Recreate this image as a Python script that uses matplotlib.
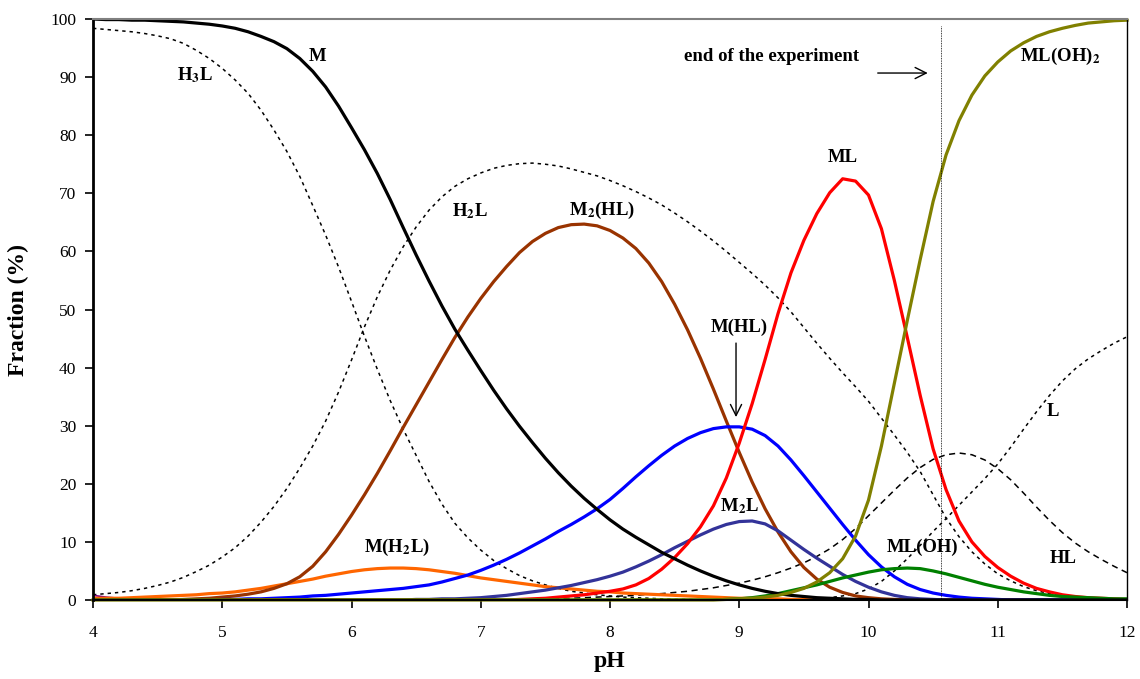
import matplotlib
matplotlib.use("Agg")
import matplotlib.pyplot as plt

plt.rcParams["font.family"] = "Liberation Serif"
plt.rcParams["mathtext.fontset"] = "stix"

# pH grid and species fractions (%)
ph = [4.0, 4.1, 4.2, 4.3, 4.4, 4.5, 4.6, 4.7, 4.8, 4.9,
      5.0, 5.1, 5.2, 5.3, 5.4, 5.5, 5.6, 5.7, 5.8, 5.9,
      6.0, 6.1, 6.2, 6.3, 6.4, 6.5, 6.6, 6.7, 6.8, 6.9,
      7.0, 7.1, 7.2, 7.3, 7.4, 7.5, 7.6, 7.7, 7.8, 7.9,
      8.0, 8.1, 8.2, 8.3, 8.4, 8.5, 8.6, 8.7, 8.8, 8.9,
      9.0, 9.1, 9.2, 9.3, 9.4, 9.5, 9.6, 9.7, 9.8, 9.9,
      10.0, 10.1, 10.2, 10.3, 10.4, 10.5, 10.6, 10.7, 10.8, 10.9,
      11.0, 11.1, 11.2, 11.3, 11.4, 11.5, 11.6, 11.7, 11.8, 11.9,
      12.0]

M = [100.0, 99.9, 99.9, 99.8, 99.8, 99.7, 99.6, 99.5, 99.3, 99.1,
     98.8, 98.4, 97.8, 97.0, 96.1, 94.9, 93.2, 91.0, 88.3, 85.0,
     81.3, 77.5, 73.4, 68.9, 64.1, 59.4, 54.9, 50.6, 46.6, 43.0,
     39.5, 36.1, 32.9, 29.9, 27.1, 24.4, 21.9, 19.6, 17.5, 15.6,
     13.8, 12.2, 10.8, 9.5, 8.2, 7.1, 6.0, 5.0, 4.1, 3.3,
     2.6, 2.0, 1.5, 1.1, 0.8, 0.6, 0.4, 0.3, 0.2, 0.1,
     0.1, 0.0, 0.0, 0.0, 0.0, 0.0, 0.0, 0.0, 0.0, 0.0,
     0.0, 0.0, 0.0, 0.0, 0.0, 0.0, 0.0, 0.0, 0.0, 0.0,
     0.0]

H3L = [98.4, 98.2, 98.0, 97.8, 97.5, 97.1, 96.6, 95.8, 94.6, 93.2,
       91.5, 89.5, 87.2, 84.3, 80.9, 77.2, 72.9, 67.9, 62.8, 57.3,
       51.4, 45.4, 39.7, 34.3, 29.4, 24.9, 20.4, 16.5, 13.2, 10.7,
       8.6, 6.8, 5.4, 4.2, 3.3, 2.6, 2.0, 1.5, 1.2, 0.9,
       0.7, 0.5, 0.4, 0.3, 0.2, 0.1, 0.1, 0.0, 0.0, 0.0,
       0.0, 0.0, 0.0, 0.0, 0.0, 0.0, 0.0, 0.0, 0.0, 0.0,
       0.0, 0.0, 0.0, 0.0, 0.0, 0.0, 0.0, 0.0, 0.0, 0.0,
       0.0, 0.0, 0.0, 0.0, 0.0, 0.0, 0.0, 0.0, 0.0, 0.0,
       0.0]

H2L = [0.9, 1.1, 1.3, 1.6, 2.0, 2.5, 3.1, 3.9, 4.9, 6.0,
       7.4, 9.0, 11.0, 13.4, 16.1, 19.2, 22.7, 26.5, 30.8, 35.8,
       41.3, 47.0, 52.2, 56.8, 60.8, 64.2, 67.1, 69.4, 71.2, 72.5,
       73.5, 74.3, 74.8, 75.1, 75.2, 75.0, 74.7, 74.2, 73.6, 73.0,
       72.2, 71.3, 70.3, 69.2, 68.0, 66.6, 65.1, 63.5, 61.8, 60.0,
       58.1, 56.2, 54.2, 52.0, 49.6, 46.9, 44.2, 41.6, 39.1, 36.7,
       34.2, 31.3, 28.4, 25.4, 22.1, 18.1, 14.1, 10.9, 8.3, 6.2,
       4.5, 3.3, 2.3, 1.6, 1.1, 0.7, 0.5, 0.3, 0.2, 0.1,
       0.1]

HL = [0.0, 0.0, 0.0, 0.0, 0.0, 0.0, 0.0, 0.0, 0.0, 0.0,
      0.0, 0.0, 0.0, 0.0, 0.0, 0.0, 0.0, 0.0, 0.0, 0.0,
      0.0, 0.0, 0.0, 0.0, 0.0, 0.0, 0.0, 0.0, 0.0, 0.0,
      0.0, 0.0, 0.0, 0.1, 0.1, 0.2, 0.2, 0.3, 0.4, 0.5,
      0.6, 0.7, 0.8, 1.0, 1.1, 1.3, 1.5, 1.8, 2.1, 2.5,
      2.9, 3.4, 4.0, 4.7, 5.5, 6.4, 7.5, 8.8, 10.4, 12.3,
      14.5, 16.7, 18.9, 21.0, 22.8, 24.2, 25.0, 25.3, 25.0, 24.1,
      22.6, 20.7, 18.4, 16.0, 13.7, 11.6, 9.8, 8.3, 7.0, 5.8,
      4.7]

L = [0.0, 0.0, 0.0, 0.0, 0.0, 0.0, 0.0, 0.0, 0.0, 0.0,
     0.0, 0.0, 0.0, 0.0, 0.0, 0.0, 0.0, 0.0, 0.0, 0.0,
     0.0, 0.0, 0.0, 0.0, 0.0, 0.0, 0.0, 0.0, 0.0, 0.0,
     0.0, 0.0, 0.0, 0.0, 0.0, 0.0, 0.0, 0.0, 0.0, 0.0,
     0.0, 0.0, 0.0, 0.0, 0.0, 0.0, 0.0, 0.0, 0.0, 0.0,
     0.0, 0.0, 0.0, 0.0, 0.0, 0.0, 0.2, 0.4, 0.7, 1.1,
     1.9, 3.2, 5.0, 7.1, 9.4, 11.8, 14.0, 16.3, 18.6, 20.9,
     23.4, 26.3, 29.4, 32.4, 35.2, 37.7, 39.8, 41.5, 42.9, 44.2,
     45.3]

M2HL = [0.0, 0.0, 0.0, 0.0, 0.0, 0.0, 0.0, 0.1, 0.2, 0.3,
        0.5, 0.7, 1.0, 1.4, 2.0, 2.8, 4.0, 5.8, 8.3, 11.3,
        14.6, 18.1, 21.8, 25.7, 29.7, 33.6, 37.5, 41.4, 45.2, 48.7,
        51.9, 54.8, 57.4, 59.8, 61.7, 63.1, 64.1, 64.6, 64.7, 64.4,
        63.6, 62.3, 60.5, 58.0, 54.8, 50.9, 46.5, 41.6, 36.3, 30.8,
        25.4, 20.3, 15.7, 11.7, 8.3, 5.6, 3.6, 2.2, 1.3, 0.7,
        0.4, 0.2, 0.1, 0.0, 0.0, 0.0, 0.0, 0.0, 0.0, 0.0,
        0.0, 0.0, 0.0, 0.0, 0.0, 0.0, 0.0, 0.0, 0.0, 0.0,
        0.0]

MHL = [0.0, 0.0, 0.0, 0.0, 0.0, 0.0, 0.0, 0.0, 0.0, 0.0,
       0.1, 0.1, 0.2, 0.2, 0.3, 0.4, 0.5, 0.7, 0.8, 1.0,
       1.2, 1.4, 1.6, 1.8, 2.0, 2.3, 2.6, 3.1, 3.7, 4.3,
       5.1, 6.0, 7.0, 8.1, 9.3, 10.5, 11.8, 13.0, 14.3, 15.7,
       17.3, 19.2, 21.2, 23.1, 24.9, 26.5, 27.8, 28.8, 29.5, 29.8,
       29.8, 29.4, 28.3, 26.5, 24.1, 21.4, 18.6, 15.8, 13.0, 10.3,
       7.8, 5.7, 4.0, 2.7, 1.8, 1.2, 0.8, 0.5, 0.3, 0.2,
       0.1, 0.0, 0.0, 0.0, 0.0, 0.0, 0.0, 0.0, 0.0, 0.0,
       0.0]

M2L = [0.0, 0.0, 0.0, 0.0, 0.0, 0.0, 0.0, 0.0, 0.0, 0.0,
       0.0, 0.0, 0.0, 0.0, 0.0, 0.0, 0.0, 0.0, 0.0, 0.0,
       0.0, 0.0, 0.0, 0.0, 0.0, 0.1, 0.1, 0.2, 0.2, 0.3,
       0.4, 0.6, 0.8, 1.1, 1.4, 1.7, 2.1, 2.5, 3.0, 3.5,
       4.1, 4.8, 5.7, 6.7, 7.8, 9.0, 10.1, 11.2, 12.2, 13.0,
       13.5, 13.6, 13.1, 11.9, 10.3, 8.7, 7.2, 5.8, 4.4, 3.2,
       2.2, 1.4, 0.8, 0.4, 0.2, 0.1, 0.0, 0.0, 0.0, 0.0,
       0.0, 0.0, 0.0, 0.0, 0.0, 0.0, 0.0, 0.0, 0.0, 0.0,
       0.0]

ML = [0.0, 0.0, 0.0, 0.0, 0.0, 0.0, 0.0, 0.0, 0.0, 0.0,
      0.0, 0.0, 0.0, 0.0, 0.0, 0.0, 0.0, 0.0, 0.0, 0.0,
      0.0, 0.0, 0.0, 0.0, 0.0, 0.0, 0.0, 0.0, 0.0, 0.0,
      0.0, 0.0, 0.0, 0.1, 0.2, 0.3, 0.5, 0.7, 0.9, 1.2,
      1.5, 1.9, 2.6, 3.7, 5.3, 7.3, 9.7, 12.6, 16.2, 21.0,
      27.0, 33.8, 41.4, 49.3, 56.3, 61.9, 66.5, 70.1, 72.5, 72.1,
      69.7, 63.9, 55.0, 45.2, 35.2, 26.0, 19.0, 13.6, 10.0, 7.5,
      5.6, 4.1, 2.9, 2.0, 1.4, 0.9, 0.6, 0.4, 0.3, 0.2,
      0.1]

MLOH2 = [0.0, 0.0, 0.0, 0.0, 0.0, 0.0, 0.0, 0.0, 0.0, 0.0,
         0.0, 0.0, 0.0, 0.0, 0.0, 0.0, 0.0, 0.0, 0.0, 0.0,
         0.0, 0.0, 0.0, 0.0, 0.0, 0.0, 0.0, 0.0, 0.0, 0.0,
         0.0, 0.0, 0.0, 0.0, 0.0, 0.0, 0.0, 0.0, 0.0, 0.0,
         0.0, 0.0, 0.0, 0.0, 0.0, 0.0, 0.0, 0.0, 0.0, 0.1,
         0.2, 0.3, 0.5, 0.8, 1.3, 2.0, 3.1, 4.7, 7.1, 11.0,
         17.2, 26.5, 37.3, 48.1, 58.6, 68.6, 76.6, 82.5, 86.9, 90.2,
         92.6, 94.5, 95.9, 97.0, 97.8, 98.4, 98.9, 99.3, 99.5, 99.7,
         99.8]

MLOH = [0.0, 0.0, 0.0, 0.0, 0.0, 0.0, 0.0, 0.0, 0.0, 0.0,
        0.0, 0.0, 0.0, 0.0, 0.0, 0.0, 0.0, 0.0, 0.0, 0.0,
        0.0, 0.0, 0.0, 0.0, 0.0, 0.0, 0.0, 0.0, 0.0, 0.0,
        0.0, 0.0, 0.0, 0.0, 0.0, 0.0, 0.0, 0.0, 0.0, 0.0,
        0.0, 0.0, 0.0, 0.0, 0.0, 0.0, 0.0, 0.0, 0.0, 0.1,
        0.2, 0.4, 0.7, 1.1, 1.6, 2.1, 2.6, 3.2, 3.8, 4.3,
        4.8, 5.2, 5.4, 5.5, 5.4, 5.0, 4.5, 3.9, 3.3, 2.7,
        2.2, 1.8, 1.4, 1.1, 0.8, 0.6, 0.5, 0.4, 0.3, 0.2,
        0.2]

MH2L = [0.3, 0.3, 0.3, 0.4, 0.5, 0.6, 0.7, 0.8, 0.9, 1.1,
        1.2, 1.4, 1.7, 2.0, 2.4, 2.8, 3.2, 3.6, 4.1, 4.5,
        4.9, 5.2, 5.4, 5.5, 5.5, 5.4, 5.2, 4.9, 4.6, 4.2,
        3.8, 3.5, 3.2, 2.9, 2.6, 2.3, 2.1, 1.9, 1.7, 1.5,
        1.4, 1.2, 1.1, 1.0, 0.9, 0.8, 0.7, 0.6, 0.5, 0.4,
        0.3, 0.3, 0.2, 0.2, 0.1, 0.1, 0.1, 0.0, 0.0, 0.0,
        0.0, 0.0, 0.0, 0.0, 0.0, 0.0, 0.0, 0.0, 0.0, 0.0,
        0.0, 0.0, 0.0, 0.0, 0.0, 0.0, 0.0, 0.0, 0.0, 0.0,
        0.0]

# small unlabeled species at the very start
MH3L = [0.8, 0.5, 0.3, 0.1, 0.0, 0.0, 0.0, 0.0, 0.0, 0.0,
        0.0, 0.0, 0.0, 0.0, 0.0, 0.0, 0.0, 0.0, 0.0, 0.0,
        0.0, 0.0, 0.0, 0.0, 0.0, 0.0, 0.0, 0.0, 0.0, 0.0,
        0.0, 0.0, 0.0, 0.0, 0.0, 0.0, 0.0, 0.0, 0.0, 0.0,
        0.0, 0.0, 0.0, 0.0, 0.0, 0.0, 0.0, 0.0, 0.0, 0.0,
        0.0, 0.0, 0.0, 0.0, 0.0, 0.0, 0.0, 0.0, 0.0, 0.0,
        0.0, 0.0, 0.0, 0.0, 0.0, 0.0, 0.0, 0.0, 0.0, 0.0,
        0.0, 0.0, 0.0, 0.0, 0.0, 0.0, 0.0, 0.0, 0.0, 0.0,
        0.0]

end_ph = 10.56  # end of the experiment

fig = plt.figure(figsize=(11.4, 6.79), dpi=100)
ax = fig.add_axes([93 / 1140, 1 - 600 / 679, 1034 / 1140, 581 / 679])

# ligand species (black dotted / dashed)
dot = (0, (2.2, 2.6))
ax.plot(ph, H3L, color="black", lw=1.1, linestyle=dot)
ax.plot(ph, H2L, color="black", lw=1.1, linestyle=dot)
ax.plot(ph, L, color="black", lw=1.1, linestyle=dot)
ax.plot(ph, HL, color="black", lw=1.1, linestyle=(0, (4, 3)))

# metal species
lw = 2.3
ax.plot(ph, MH3L, color="#800080", lw=1.2)
ax.plot(ph, MH2L, color="#FF6600", lw=lw)
ax.plot(ph, M2HL, color="#993300", lw=lw)
ax.plot(ph, MHL, color="#0000FF", lw=lw)
ax.plot(ph, M2L, color="#333399", lw=lw)
ax.plot(ph, ML, color="#FF0000", lw=lw)
ax.plot(ph, MLOH, color="#008000", lw=lw)
ax.plot(ph, M, color="black", lw=lw)
ax.plot(ph, MLOH2, color="#808000", lw=lw, clip_on=False)

ax.axvline(end_ph, ymin=0, ymax=0.988, color="black", lw=0.6, linestyle=(0, (1, 1)))

ax.set_xlim(4, 12)
ax.set_ylim(0, 100)
ax.set_xticks(range(4, 13))
ax.set_yticks(range(0, 101, 10))
ax.tick_params(axis="both", direction="out", length=6, width=1.2, labelsize=12.5)
ax.tick_params(axis="x", pad=12)
ax.tick_params(axis="y", pad=6)

ax.spines["top"].set_color("#808080")
ax.spines["top"].set_linewidth(1.5)
ax.spines["right"].set_linewidth(1.0)
ax.spines["left"].set_linewidth(2.0)
ax.spines["bottom"].set_linewidth(1.5)

ax.set_xlabel("pH", fontsize=17, fontweight="bold")
ax.set_ylabel("Fraction (%)", fontsize=17, fontweight="bold")
ax.xaxis.set_label_coords(0.5, -0.088)
ax.yaxis.set_label_coords(-0.062, 0.5)

# species labels
lab = dict(fontsize=13.5, fontweight="bold", ha="center", va="center")
ax.text(5.74, 93.6, "M", **lab)
ax.text(4.79, 90.4, r"H$_\mathbf{3}$L", **lab)
ax.text(6.92, 67.0, r"H$_\mathbf{2}$L", **lab)
ax.text(7.94, 67.0, r"M$_\mathbf{2}$(HL)", **lab)
ax.text(9.80, 76.2, "ML", **lab)
ax.text(11.48, 93.5, r"ML(OH)$_\mathbf{2}$", **lab)
ax.text(9.0, 47.0, "M(HL)", **lab)
ax.text(9.0, 16.2, r"M$_\mathbf{2}$L", **lab)
ax.text(11.43, 32.4, "L", **lab)
ax.text(11.51, 7.2, "HL", **lab)
ax.text(10.42, 9.0, "ML(OH)", **lab)
ax.text(6.35, 9.0, r"M(H$_\mathbf{2}$L)", **lab)
ax.text(9.25, 93.5, "end of the experiment", fontsize=13.5, fontweight="bold",
        ha="center", va="center")

ax.annotate("", xy=(10.48, 90.7), xytext=(10.05, 90.7),
            arrowprops=dict(arrowstyle="->", lw=1.0, mutation_scale=20, color="black"))
ax.annotate("", xy=(8.975, 31.0), xytext=(8.975, 44.7),
            arrowprops=dict(arrowstyle="->", lw=1.0, mutation_scale=20, color="black"))

fig.savefig("out.png", dpi=100)
